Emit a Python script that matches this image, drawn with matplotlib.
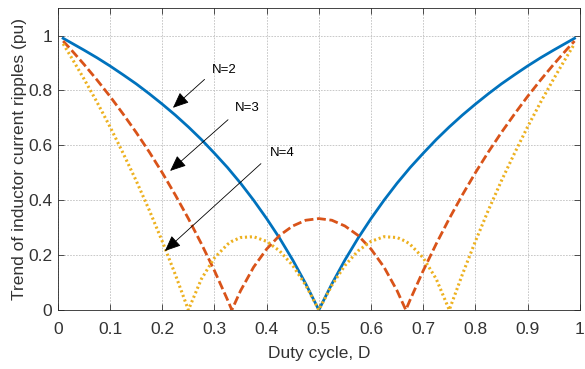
import matplotlib
matplotlib.use("Agg")
import matplotlib.pyplot as plt

plt.rcParams['font.family'] = ['Liberation Sans', 'DejaVu Sans']

# duty cycle samples
D = [0.01, 0.025, 0.05, 0.075, 0.1, 0.125, 0.15, 0.175, 0.2, 0.225, 0.25,
     0.275, 0.3, 0.325, 0.3333, 0.35, 0.375, 0.4, 0.425, 0.45, 0.475, 0.5,
     0.525, 0.55, 0.575, 0.6, 0.625, 0.65, 0.6667, 0.675, 0.7, 0.725, 0.75,
     0.775, 0.8, 0.825, 0.85, 0.875, 0.9, 0.925, 0.95, 0.975, 0.99]

n2 = [0.99, 0.974, 0.947, 0.919, 0.889, 0.857, 0.824, 0.788, 0.75, 0.71, 0.667,
      0.621, 0.571, 0.519, 0.5, 0.462, 0.4, 0.333, 0.261, 0.182, 0.095, 0.0,
      0.095, 0.182, 0.261, 0.333, 0.4, 0.462, 0.5, 0.519, 0.571, 0.621, 0.667,
      0.71, 0.75, 0.788, 0.824, 0.857, 0.889, 0.919, 0.947, 0.974, 0.99]

n3 = [0.98, 0.949, 0.895, 0.838, 0.778, 0.714, 0.647, 0.576, 0.5, 0.419, 0.333,
      0.241, 0.143, 0.037, 0.0, 0.07, 0.156, 0.222, 0.272, 0.306, 0.327, 0.333,
      0.327, 0.306, 0.272, 0.222, 0.156, 0.07, 0.0, 0.037, 0.143, 0.241, 0.333,
      0.419, 0.5, 0.576, 0.647, 0.714, 0.778, 0.838, 0.895, 0.949, 0.98]

n4 = [0.97, 0.923, 0.842, 0.757, 0.667, 0.571, 0.471, 0.364, 0.25, 0.129, 0.0,
      0.113, 0.19, 0.239, 0.25, 0.264, 0.267, 0.25, 0.215, 0.162, 0.09, 0.0,
      0.09, 0.162, 0.215, 0.25, 0.267, 0.264, 0.25, 0.239, 0.19, 0.113, 0.0,
      0.129, 0.25, 0.364, 0.471, 0.571, 0.667, 0.757, 0.842, 0.923, 0.97]

fig = plt.figure(figsize=(5.85, 3.69), dpi=100)
ax = fig.add_axes([0.099, 0.160, 0.892, 0.818])

ax.plot(D, n2, color='#0072BD', linewidth=2)
ax.plot(D, n3, color='#D95319', linewidth=2, dashes=(3.2, 1.3))
ax.plot(D, n4, color='#EDB120', linewidth=2.2, dashes=(0.7, 0.9))

# annotations with arrows
arrow = dict(arrowstyle='-|>,head_length=0.7,head_width=0.3', color='black',
             lw=0.6, mutation_scale=14)
ax.annotate('', xy=(0.2165, 0.73), xytext=(0.285, 0.847), arrowprops=arrow)
ax.text(0.318, 0.876, 'N=2', fontsize=9.5, ha='center', va='center')
ax.annotate('', xy=(0.211, 0.50), xytext=(0.33, 0.70), arrowprops=arrow)
ax.text(0.363, 0.737, 'N=3', fontsize=9.5, ha='center', va='center')
ax.annotate('', xy=(0.201, 0.208), xytext=(0.393, 0.54), arrowprops=arrow)
ax.text(0.43, 0.573, 'N=4', fontsize=9.5, ha='center', va='center')

ax.set_xlim(0, 1)
ax.set_ylim(0, 1.1)
ax.set_xticks([0, 0.1, 0.2, 0.3, 0.4, 0.5, 0.6, 0.7, 0.8, 0.9, 1])
ax.set_xticklabels(['0', '0.1', '0.2', '0.3', '0.4', '0.5', '0.6', '0.7', '0.8', '0.9', '1'])
ax.set_yticks([0, 0.2, 0.4, 0.6, 0.8, 1])
ax.set_yticklabels(['0', '0.2', '0.4', '0.6', '0.8', '1'])
ax.grid(True, color='#c0c0c0', linestyle=(0, (2, 1.5)), linewidth=0.6)
ax.tick_params(direction='in', top=True, right=True, length=4, labelsize=12.5,
               colors='#333333', width=0.6)
ax.tick_params(axis='x', pad=9)
ax.tick_params(axis='y', pad=4)
for s in ax.spines.values():
    s.set_color('#262626')
    s.set_linewidth(0.6)

ax.set_xlabel('Duty cycle, D', fontsize=12.5, color='#333333', labelpad=6)
ax.set_ylabel('Trend of inductor current ripples (pu)', fontsize=12.5, color='#333333', labelpad=1)

fig.savefig('out.png', dpi=100)
